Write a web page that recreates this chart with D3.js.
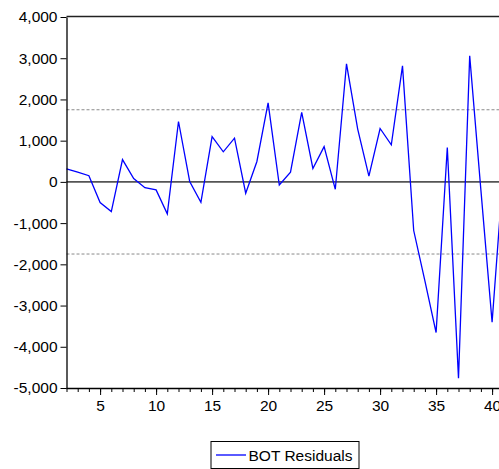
<!DOCTYPE html>
<html>
<head>
<meta charset="utf-8">
<script src="https://cdn.jsdelivr.net/npm/d3@7"></script>
<style>
  html, body { margin: 0; padding: 0; background: #fff; }
  svg { display: block; }
  text { font-family: "Liberation Sans", Arial, sans-serif; }
</style>
</head>
<body>
<svg id="chart" width="499" height="469"></svg>
<script>
// Observation numbers and residual values
const observations = d3.range(2, 42);
const residuals = [
  315, 235, 150, -500, -720, 540, 80, -140, -195, -775,
  1465, 10, -495, 1100, 730, 1060, -275, 495, 1915, -75,
  235, 1685, 325, 855, -180, 2865, 1280, 140, 1295, 900,
  2815, -1180, -2400, -3655, 835, -4765, 3060, -200, -3405, 260
];
const yTicks = [-5000, -4000, -3000, -2000, -1000, 0, 1000, 2000, 3000, 4000];
const xMajorTicks = [5, 10, 15, 20, 25, 30, 35, 40];
const bandLimits = [1750, -1750];
const seriesName = "BOT Residuals";

const svg = d3.select("#chart");
const plotLeft = 66.5, plotRight = 503.3, plotTop = 17, plotBottom = 388;
const fontSize = 15.5;

const x = d3.scaleLinear().domain([2, 41]).range([plotLeft, plotRight]);
const y = d3.scaleLinear().domain([-5000, 4000]).range([plotBottom, plotTop]);

const fmt = d3.formatLocale({decimal: ".", thousands: ",", grouping: [3], currency: ["", ""], minus: "-"}).format(",");

// Frame top edge
svg.append("line")
  .attr("x1", plotLeft).attr("x2", 499)
  .attr("y1", 16.5).attr("y2", 16.5)
  .attr("stroke", "#222").attr("stroke-width", 1.6);

// Band limits (dashed)
svg.selectAll("line.band").data(bandLimits).join("line")
  .attr("class", "band")
  .attr("x1", plotLeft).attr("x2", 499)
  .attr("y1", d => y(d)).attr("y2", d => y(d))
  .attr("stroke", "#8a8a8a").attr("stroke-width", 1)
  .attr("stroke-dasharray", "3,2");

// Zero line
svg.append("line")
  .attr("x1", plotLeft).attr("x2", 499)
  .attr("y1", y(0)).attr("y2", y(0))
  .attr("stroke", "#555").attr("stroke-width", 1.6);

// Residual series
const line = d3.line().x((d, i) => x(observations[i])).y(d => y(d));
svg.append("path")
  .datum(residuals)
  .attr("d", line)
  .attr("fill", "none")
  .attr("stroke", "#0000ff")
  .attr("stroke-width", 1.3)
  .attr("stroke-linejoin", "miter");

// Y axis
const yAxis = svg.append("g")
  .attr("transform", `translate(${plotLeft},0)`)
  .call(d3.axisLeft(y).tickValues(yTicks).tickFormat(fmt).tickSize(6).tickSizeOuter(0));
yAxis.select(".domain").attr("stroke", "#000").attr("stroke-width", 1.3);
yAxis.selectAll("text").attr("font-size", fontSize).attr("fill", "#000").attr("x", -9);

// X axis: minor ticks
const xMinor = svg.append("g")
  .attr("transform", `translate(0,${plotBottom})`)
  .call(d3.axisBottom(x).tickValues(observations).tickFormat("").tickSize(4).tickSizeOuter(0));
xMinor.select(".domain").attr("stroke", "#000").attr("stroke-width", 1.3).attr("d", `M${plotLeft},0.5H499`);

// X axis: labelled ticks
const xMajor = svg.append("g")
  .attr("transform", `translate(0,${plotBottom})`)
  .call(d3.axisBottom(x).tickValues(xMajorTicks).tickFormat(d3.format("d")).tickSize(7).tickSizeOuter(0));
xMajor.select(".domain").remove();
xMajor.selectAll("text").attr("font-size", fontSize).attr("fill", "#000").attr("y", 12);

// Legend
const legend = svg.append("g");
legend.append("rect")
  .attr("x", 211).attr("y", 441.5).attr("width", 148).attr("height", 27)
  .attr("fill", "#fff").attr("stroke", "#000").attr("stroke-width", 1);
legend.append("line")
  .attr("x1", 216).attr("x2", 246).attr("y1", 455).attr("y2", 455)
  .attr("stroke", "#0000ff").attr("stroke-width", 1.3);
legend.append("text")
  .attr("x", 248.5).attr("y", 460.5)
  .attr("font-size", fontSize).attr("fill", "#000")
  .text(seriesName);
</script>
</body>
</html>
